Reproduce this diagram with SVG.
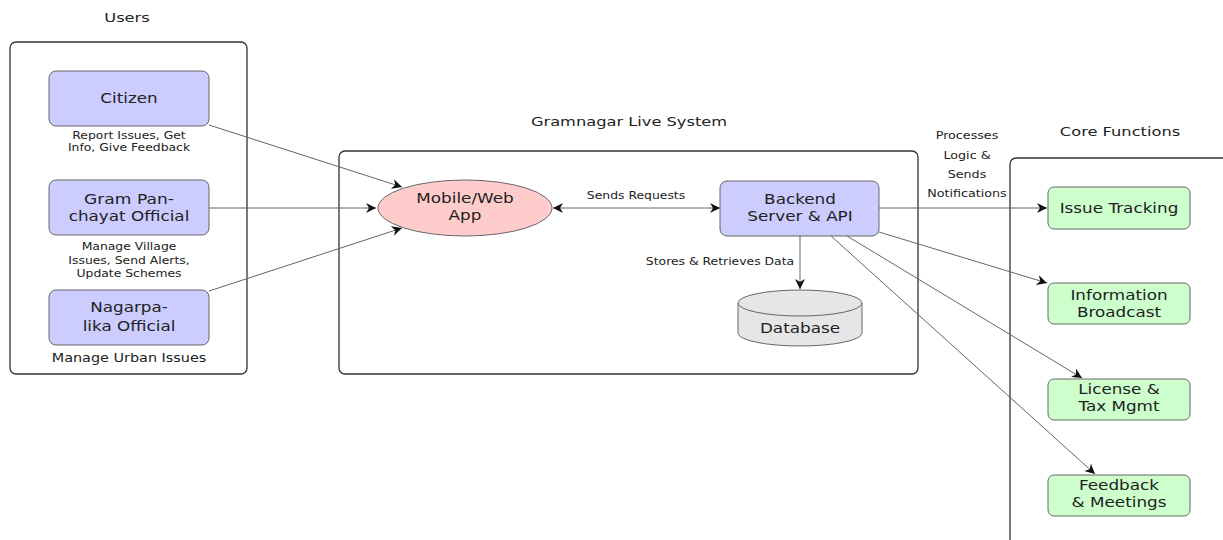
<svg xmlns="http://www.w3.org/2000/svg" width="1223" height="540" viewBox="0 0 1223 540">
<style>
text{font-family:"DejaVu Sans","Noto Sans",sans-serif;fill:#222;text-anchor:middle}
.cl{fill:#fff;stroke:#333;stroke-width:1.3}
.title{font-size:13px}
.blue{fill:#ccccff;stroke:#666;stroke-width:1}
.green{fill:#ccffcc;stroke:#666;stroke-width:1}
.n{font-size:14px}
.s{font-size:10px}
.m{font-size:12px}
.e{stroke:#666;stroke-width:1;fill:none}
</style>
<defs>
<marker id="ah" viewBox="0 0 10 10" refX="10" refY="5" markerWidth="10" markerHeight="10" markerUnits="userSpaceOnUse" orient="auto-start-reverse">
<path d="M0,0 L10,5 L0,10 L3,5 z" fill="#111"/>
</marker>
</defs>
<rect width="1223" height="540" fill="#fff"/>
<g id="cluster-users">
<rect class="cl" x="10" y="42" width="237" height="332" rx="6"/>
<text class="title" transform="translate(127,22) scale(1.25,1)">Users</text>
</g>
<g id="cluster-system">
<rect class="cl" x="339" y="151" width="579" height="223" rx="6"/>
<text class="title" transform="translate(629,126) scale(1.25,1)">Gramnagar Live System</text>
</g>
<g id="cluster-core">
<rect class="cl" x="1010" y="158" width="240" height="400" rx="6"/>
<text class="title" transform="translate(1120,136) scale(1.25,1)">Core Functions</text>
</g>
<g id="connectors">
<line class="e" x1="209" y1="125" x2="402" y2="187" marker-end="url(#ah)"/>
<line class="e" x1="209" y1="208" x2="376" y2="208" marker-end="url(#ah)"/>
<line class="e" x1="209" y1="291" x2="402" y2="228" marker-end="url(#ah)"/>
<line class="e" x1="553" y1="208" x2="720" y2="208" marker-start="url(#ah)" marker-end="url(#ah)"/>
<text class="s" transform="translate(636,199) scale(1.24,1)">Sends Requests</text>
<line class="e" x1="800" y1="236" x2="800" y2="289" marker-end="url(#ah)"/>
<text class="s" transform="translate(720,265) scale(1.24,1)">Stores &amp; Retrieves Data</text>
<line class="e" x1="879" y1="208" x2="1047" y2="208" marker-end="url(#ah)"/>
<text class="s" transform="translate(967,139) scale(1.27,1)">Processes</text>
<text class="s" transform="translate(967,159) scale(1.27,1)">Logic &amp;</text>
<text class="s" transform="translate(967,178) scale(1.27,1)">Sends</text>
<text class="s" transform="translate(967,197) scale(1.27,1)">Notifications</text>
<line class="e" x1="879" y1="232" x2="1047" y2="283" marker-end="url(#ah)"/>
<line class="e" x1="847" y1="236" x2="1082" y2="378" marker-end="url(#ah)"/>
<line class="e" x1="831" y1="236" x2="1095" y2="474" marker-end="url(#ah)"/>
</g>
<g id="citizen">
<rect class="blue" x="49" y="71" width="160" height="55" rx="7"/>
<text class="n" transform="translate(129,103) scale(1.2,1)">Citizen</text>
<text class="s" transform="translate(129,139) scale(1.24,1)">Report Issues, Get</text>
<text class="s" transform="translate(129,151) scale(1.24,1)">Info, Give Feedback</text>
</g>
<g id="gram">
<rect class="blue" x="49" y="180" width="160" height="55" rx="7"/>
<text class="n" transform="translate(129,204) scale(1.22,1)">Gram Pan-</text>
<text class="n" transform="translate(129,221) scale(1.2,1)">chayat Official</text>
<text class="s" transform="translate(129,250) scale(1.24,1)">Manage Village</text>
<text class="s" transform="translate(129,264) scale(1.24,1)">Issues, Send Alerts,</text>
<text class="s" transform="translate(129,277) scale(1.24,1)">Update Schemes</text>
</g>
<g id="nagar">
<rect class="blue" x="49" y="290" width="160" height="55" rx="7"/>
<text class="n" transform="translate(129,312) scale(1.2,1)">Nagarpa-</text>
<text class="n" transform="translate(129,331) scale(1.2,1)">lika Official</text>
<text class="m" transform="translate(129,362) scale(1.2,1)">Manage Urban Issues</text>
</g>
<g id="app">
<ellipse cx="465" cy="208" rx="87" ry="28" fill="#ffcccc" stroke="#666" stroke-width="1"/>
<text class="n" transform="translate(465,203) scale(1.2,1)">Mobile/Web</text>
<text class="n" transform="translate(465,220) scale(1.2,1)">App</text>
</g>
<g id="backend">
<rect class="blue" x="720" y="181" width="159" height="55" rx="7"/>
<text class="n" transform="translate(800,204) scale(1.2,1)">Backend</text>
<text class="n" transform="translate(800,221) scale(1.2,1)">Server &amp; API</text>
</g>
<g id="database">
<path d="M738,303 L738,333 A62,13 0 0 0 862,333 L862,303" fill="#e6e6e6" stroke="#666" stroke-width="1"/>
<ellipse cx="800" cy="303" rx="62" ry="13" fill="#e6e6e6" stroke="#666" stroke-width="1"/>
<text class="n" transform="translate(800,333) scale(1.2,1)">Database</text>
</g>
<g id="issue">
<rect class="green" x="1048" y="187" width="142" height="42" rx="6"/>
<text class="n" transform="translate(1119,213) scale(1.2,1)">Issue Tracking</text>
</g>
<g id="info">
<rect class="green" x="1048" y="283" width="142" height="41" rx="6"/>
<text class="n" transform="translate(1119,300) scale(1.2,1)">Information</text>
<text class="n" transform="translate(1119,317) scale(1.2,1)">Broadcast</text>
</g>
<g id="license">
<rect class="green" x="1048" y="379" width="142" height="41" rx="6"/>
<text class="n" transform="translate(1119,394) scale(1.2,1)">License  &amp;</text>
<text class="n" transform="translate(1119,411) scale(1.2,1)">Tax Mgmt</text>
</g>
<g id="feedback">
<rect class="green" x="1048" y="475" width="142" height="41" rx="6"/>
<text class="n" transform="translate(1119,490) scale(1.2,1)">Feedback</text>
<text class="n" transform="translate(1119,507) scale(1.2,1)">&amp; Meetings</text>
</g>
</svg>
